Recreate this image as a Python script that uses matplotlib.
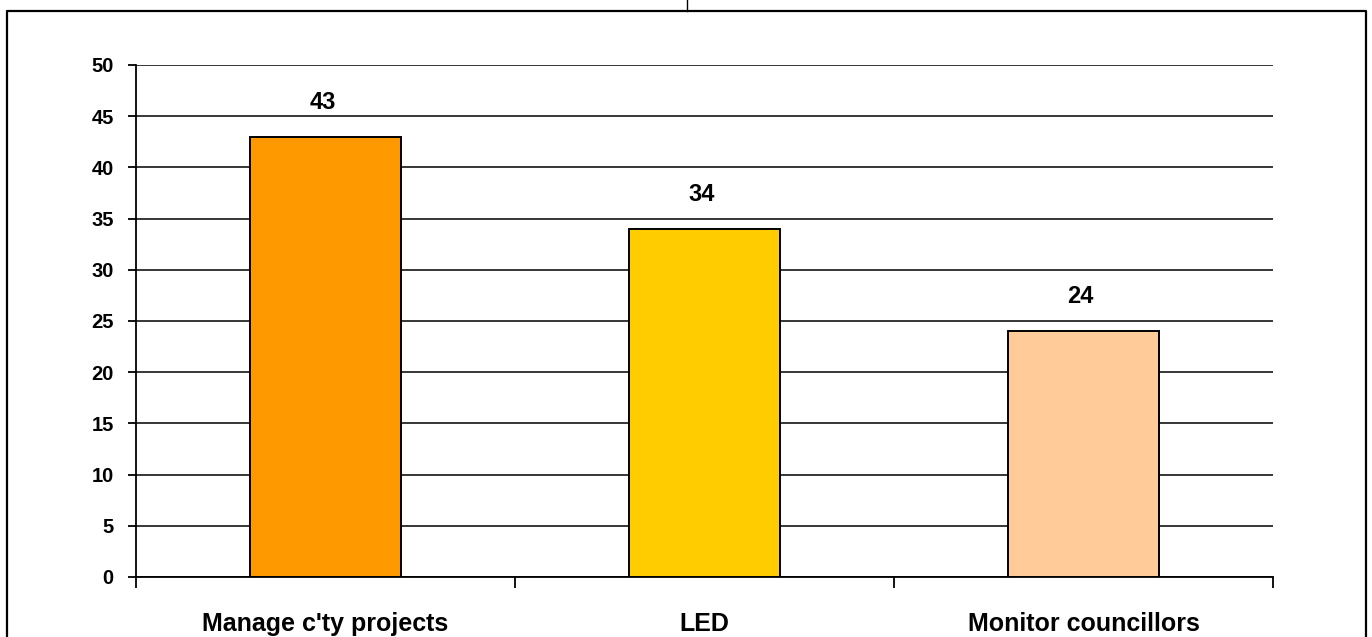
import numpy as np
import matplotlib
matplotlib.use('Agg')
from matplotlib import pyplot as plt
from matplotlib.lines import Line2D

categories = ["Manage c'ty projects", "LED", "Monitor councillors"]
values = [43, 34, 24]
colors = ['#FF9900', '#FFCC00', '#FFCC99']
yticks = [0, 5, 10, 15, 20, 25, 30, 35, 40, 45, 50]

plt.rcParams['font.family'] = ['Liberation Sans', 'DejaVu Sans']
plt.rcParams['font.weight'] = 'bold'

W, H = 1372, 637
fig = plt.figure(figsize=(W / 100, H / 100), dpi=100)
ax = fig.add_axes([136 / W, 1 - 577 / H, (1273 - 136) / W, (577 - 65) / H])

x = np.arange(len(categories))
ax.bar(x, values, width=0.4, color=colors, edgecolor='black', linewidth=1.4, zorder=3)

for xi, v in zip(x, values):
    ax.annotate(str(v), (xi, v), xytext=(-2, 20), textcoords='offset points',
                ha='center', va='baseline', fontsize=17, fontweight='bold')

ax.set_xlim(-0.5, len(categories) - 0.5)
ax.set_ylim(0, 50)
ax.set_yticks(yticks)
ax.yaxis.grid(True, color='black', linewidth=1.1, zorder=0)
ax.set_axisbelow(True)

ax.set_xticks(x)
ax.set_xticklabels(categories, fontsize=18, fontweight='bold')
ax.set_xticks(np.arange(-0.5, len(categories), 1.0), minor=True)
ax.tick_params(axis='x', which='major', length=0, pad=25)
ax.tick_params(axis='x', which='minor', length=8, width=1.3, direction='out')
ax.tick_params(axis='y', length=6, width=1.3, direction='out', pad=10, labelsize=14.5)
for lab in ax.get_yticklabels():
    lab.set_fontweight('bold')

for s in ['top', 'right']:
    ax.spines[s].set_visible(False)
ax.spines['left'].set_linewidth(1.3)
ax.spines['bottom'].set_linewidth(1.3)

# outer frame, cut off at the bottom
fx0, fx1, fy1 = 7 / W, 1366 / W, 1 - 10.5 / H
fig.add_artist(Line2D([fx0, fx0, fx1, fx1], [0, fy1, fy1, 0], color='black',
                      linewidth=1.6, transform=fig.transFigure))
fig.add_artist(Line2D([687 / W, 687 / W], [fy1, 1], color='black',
                      linewidth=1.0, transform=fig.transFigure))

fig.savefig('out.png', dpi=100)
